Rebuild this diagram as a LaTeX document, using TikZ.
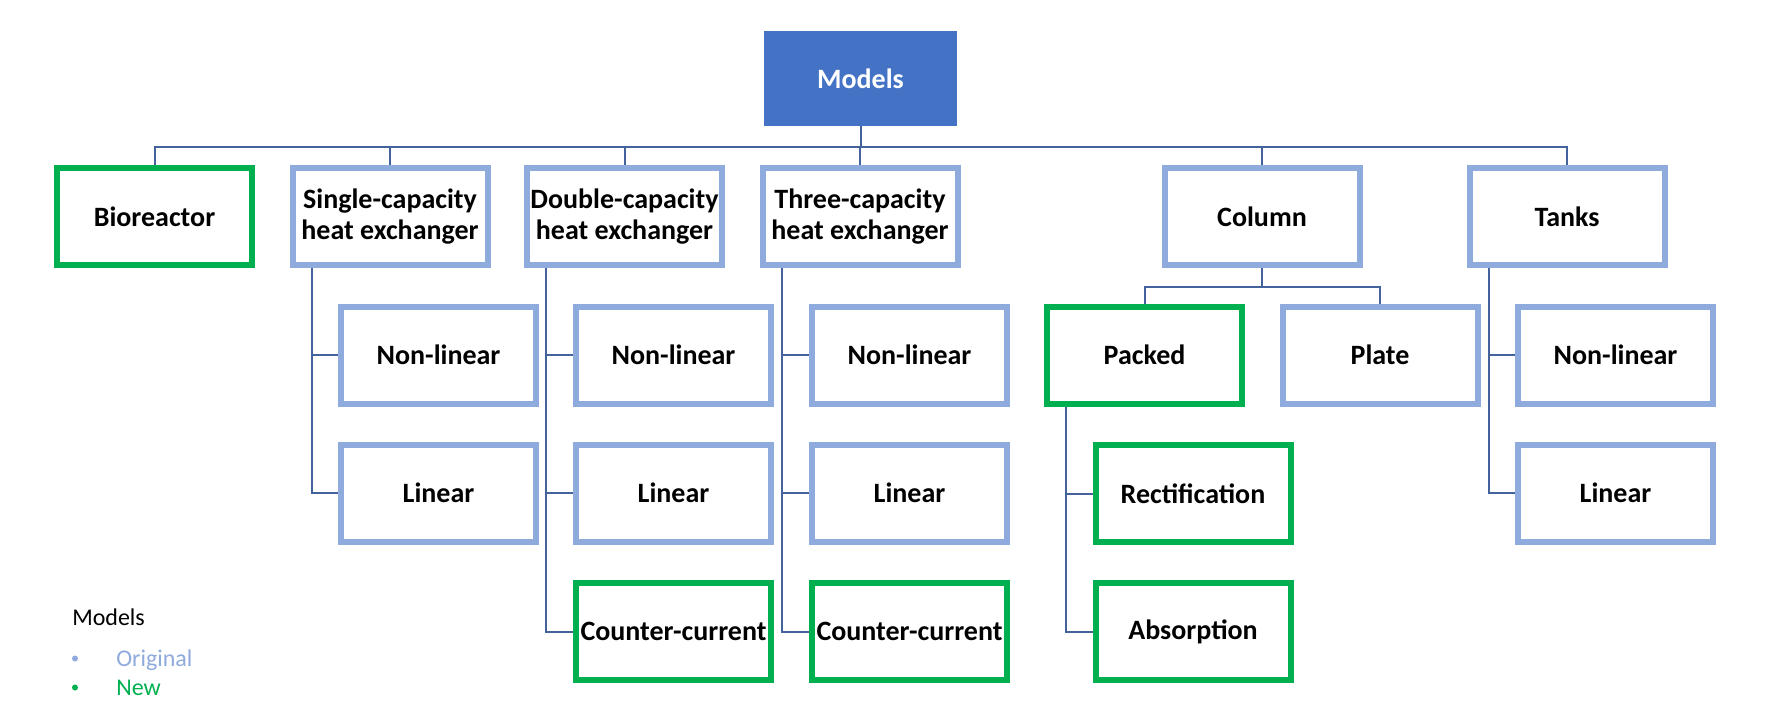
\documentclass[tikz,border=0pt]{standalone}
\usepackage{fontspec}
\setmainfont{Carlito}
\definecolor{topblue}{HTML}{4472C4}
\definecolor{origblue}{HTML}{8FAADC}
\definecolor{newgreen}{HTML}{00B050}
\definecolor{linkcol}{HTML}{44629C}
\tikzset{
  box/.style={draw, line width=4.5pt, fill=white, minimum width=146.25pt, minimum height=72.75pt,
    inner sep=0pt, align=center, font=\bfseries\fontsize{21}{23.5}\selectfont, text=black},
  orig/.style={box, draw=origblue},
  newb/.style={box, draw=newgreen},
  topbox/.style={fill=topblue, minimum width=144.75pt, minimum height=71.25pt, inner sep=0pt,
    outer sep=0pt, font=\bfseries\fontsize{21}{23.5}\selectfont, text=white},
  link/.style={draw=linkcol, line width=1.5pt},
  legtext/.style={anchor=base west, inner sep=0pt, font=\fontsize{18}{18}\selectfont},
  bullet/.style={circle, fill=#1, minimum size=4.5pt, inner sep=0pt}
}
\begin{document}
\begin{tikzpicture}[x=0.75pt,y=-0.75pt]
\useasboundingbox (0,0) rectangle (1766,727);
\fill[white] (0,0) rectangle (1766,727);

% nodes
\node[topbox] (models) at (860.5,78.5) {Models};

\node[newb] (bio)    at (154.5,216.5) {Bioreactor};
\node[orig] (single) at (390,216.5) {Single-capacity\\heat exchanger};
\node[orig] (double) at (624.5,216.5) {Double-capacity\\heat exchanger};
\node[orig] (three)  at (860,216.5) {Three-capacity\\heat exchanger};
\node[orig] (column) at (1262,216.5) {Column};
\node[orig] (tanks)  at (1567,216.5) {Tanks};

\node[orig] (snl) at (438.5,355) {Non-linear};
\node[orig] (sl)  at (438.5,493) {Linear};
\node[orig] (dnl) at (673.5,355) {Non-linear};
\node[orig] (dl)  at (673.5,493) {Linear};
\node[newb] (dcc) at (673.5,631.5) {Counter-current};
\node[orig] (tnl) at (909.5,355) {Non-linear};
\node[orig] (tl)  at (909.5,493) {Linear};
\node[newb] (tcc) at (909.5,631.5) {Counter-current};
\node[newb] (packed) at (1144.5,355) {Packed};
\node[orig] (plate)  at (1380,355) {Plate};
\node[newb] (rect) at (1193,493.5) {Rectification};
\node[newb] (abs)  at (1193,631.5) {Absorption};
\node[orig] (knl) at (1615.5,355) {Non-linear};
\node[orig] (kl)  at (1615.5,493) {Linear};

% connectors
\coordinate (bus) at (860.5,147);
\coordinate (cbus) at (1262,287);
\draw[link] (models.south) -- (bus);
\foreach \n in {bio,single,double,three,column,tanks}{
  \draw[link] (bus) -| (\n.north);
}
\draw[link] (column.south) -- (cbus);
\draw[link] (cbus) -| (packed.north);
\draw[link] (cbus) -| (plate.north);

\draw[link] ([xshift=16.5pt]single.south west) |- (snl.west);
\draw[link] ([xshift=16.5pt]single.south west) |- (sl.west);
\draw[link] ([xshift=16.5pt]double.south west) |- (dnl.west);
\draw[link] ([xshift=16.5pt]double.south west) |- (dl.west);
\draw[link] ([xshift=16.5pt]double.south west) |- (dcc.west);
\draw[link] ([xshift=16.5pt]three.south west) |- (tnl.west);
\draw[link] ([xshift=16.5pt]three.south west) |- (tl.west);
\draw[link] ([xshift=16.5pt]three.south west) |- (tcc.west);
\draw[link] ([xshift=16.5pt]packed.south west) |- (rect.west);
\draw[link] ([xshift=16.5pt]packed.south west) |- (abs.west);
\draw[link] ([xshift=16.5pt]tanks.south west) |- (knl.west);
\draw[link] ([xshift=16.5pt]tanks.south west) |- (kl.west);

% legend
\node[legtext] (legtitle) at (72,625) {Models};
\node[bullet=origblue] (bo) at (75,658.5) {};
\node[bullet=newgreen] (bn) at (75,687.5) {};
\node[legtext, text=origblue] (legorig) at (116,666) {Original};
\node[legtext, text=newgreen] (legnew) at (116,695) {New};
\end{tikzpicture}
\end{document}
